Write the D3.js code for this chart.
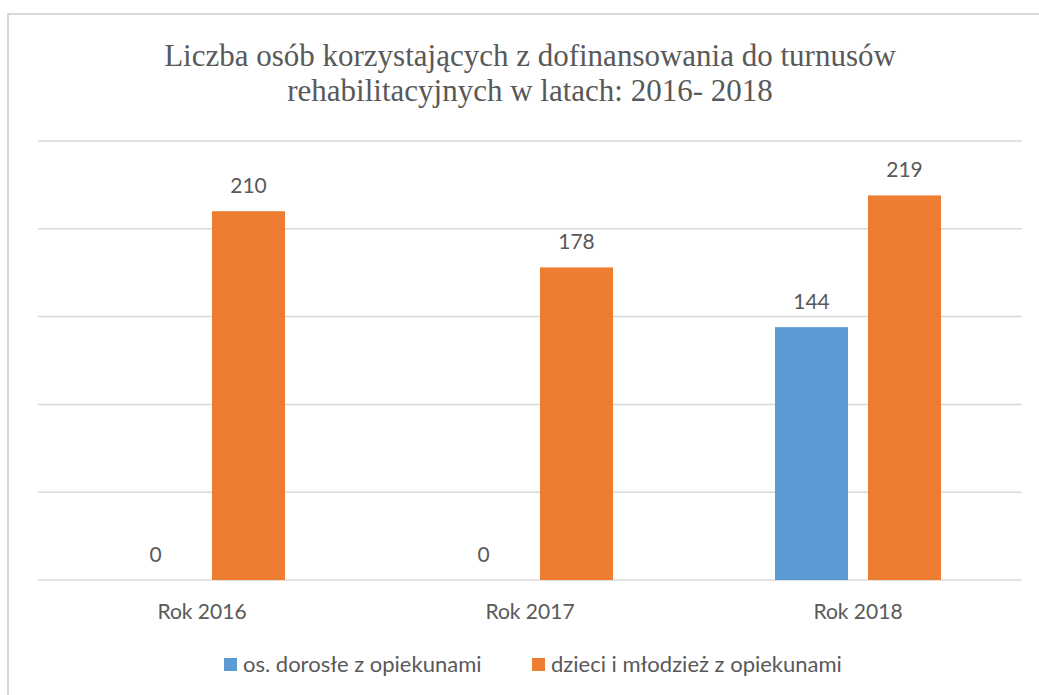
<!DOCTYPE html>
<html>
<head>
<meta charset="utf-8">
<script src="https://cdn.jsdelivr.net/npm/d3@7"></script>
<style>
  body { margin: 0; background: #fff; }
  text { fill: #595959; }
</style>
</head>
<body>
<div id="chart"></div>
<script>
// data
const categories = ["Rok 2016", "Rok 2017", "Rok 2018"];
const seriesNames = ["os. dorosłe z opiekunami", "dzieci i młodzież z opiekunami"];
const adults = [0, 0, 144];
const children = [210, 178, 219];
const yTicks = [0, 50, 100, 150, 200, 250];
const colors = ["#5b9bd5", "#ed7d31"];

const W = 1039, H = 695;
const plot = { left: 38, right: 1022, top: 141, bottom: 580 };
const labelFont = "Lato, 'Open Sans', sans-serif";

var svg = d3.select("#chart").append("svg")
    .attr("width", W)
    .attr("height", H);

// chart frame
svg.append("rect")
    .attr("x", 8).attr("y", 14)
    .attr("width", W + 20).attr("height", H + 20)
    .attr("fill", "none")
    .attr("stroke", "#d9d9d9")
    .attr("stroke-width", 2);

// title
const titleLines = ["Liczba osób korzystających z dofinansowania do turnusów",
                    "rehabilitacyjnych w latach: 2016- 2018"];
svg.append("g")
    .selectAll("text")
    .data(titleLines)
    .join("text")
    .attr("x", 530)
    .attr("y", (d, i) => 66 + i * 35)
    .attr("text-anchor", "middle")
    .style("font-family", "'Liberation Serif', 'Times New Roman', serif")
    .style("font-size", "31px")
    .text(d => d);

// scales
var x0 = d3.scaleBand()
    .domain(categories)
    .range([plot.left, plot.right]);

var x1 = d3.scaleBand()
    .domain(seriesNames)
    .range([-83, 83])
    .paddingInner(0.215);

var y = d3.scaleLinear()
    .domain([0, 250])
    .range([plot.bottom, plot.top]);

// gridlines
svg.append("g")
    .selectAll("line")
    .data(yTicks)
    .join("line")
    .attr("x1", plot.left).attr("x2", plot.right)
    .attr("y1", d => y(d)).attr("y2", d => y(d))
    .attr("stroke", "#d9d9d9")
    .attr("stroke-width", 1.5);

// bars
const table = categories.map((c, i) => ({ cat: c, values: [adults[i], children[i]] }));

var groups = svg.append("g")
    .selectAll("g")
    .data(table)
    .join("g")
    .attr("transform", d => `translate(${x0(d.cat) + x0.bandwidth() / 2},0)`);

groups.selectAll("rect")
    .data(d => d.values.map((v, j) => ({ key: seriesNames[j], v: v, j: j })))
    .join("rect")
    .attr("x", d => x1(d.key))
    .attr("width", x1.bandwidth())
    .attr("y", d => y(d.v))
    .attr("height", d => y(0) - y(d.v))
    .attr("fill", d => colors[d.j]);

groups.selectAll("text.val")
    .data(d => d.values.map((v, j) => ({ key: seriesNames[j], v: v })))
    .join("text")
    .attr("class", "val")
    .attr("x", d => x1(d.key) + x1.bandwidth() / 2)
    .attr("y", d => y(d.v) - 18)
    .attr("text-anchor", "middle")
    .style("font-family", labelFont)
    .style("font-size", "21px")
    .text(d => d.v);

// category labels
svg.append("g")
    .selectAll("text")
    .data(categories)
    .join("text")
    .attr("x", d => x0(d) + x0.bandwidth() / 2)
    .attr("y", 619)
    .attr("text-anchor", "middle")
    .style("font-family", labelFont)
    .style("font-size", "21px")
    .text(d => d);

// legend
const legendX = [224, 532];
var legend = svg.append("g")
    .selectAll("g")
    .data(seriesNames)
    .join("g")
    .attr("transform", (d, i) => `translate(${legendX[i]},658)`);

legend.append("rect")
    .attr("width", 13).attr("height", 13)
    .attr("fill", (d, i) => colors[i]);

legend.append("text")
    .attr("x", 19).attr("y", 14)
    .style("font-family", labelFont)
    .style("font-size", "22px")
    .text(d => d);
</script>
</body>
</html>
